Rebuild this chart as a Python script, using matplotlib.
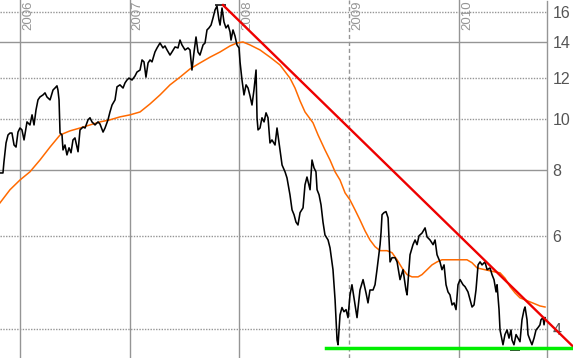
import matplotlib
matplotlib.use("Agg")
import matplotlib.pyplot as plt
from matplotlib.ticker import FixedLocator, NullLocator

# -------------------------
# Data (x in decimal years)
# -------------------------
price_t = [
    2005.818, 2005.845, 2005.854, 2005.873, 2005.891, 2005.909, 2005.927, 2005.946, 2005.964, 2005.982,
    2006.000, 2006.018, 2006.037, 2006.064, 2006.091, 2006.110, 2006.128, 2006.146, 2006.164, 2006.182,
    2006.210, 2006.228, 2006.246, 2006.274, 2006.301, 2006.319, 2006.337, 2006.346, 2006.356, 2006.365,
    2006.383, 2006.392, 2006.410, 2006.428, 2006.447, 2006.465, 2006.483, 2006.501, 2006.529, 2006.547,
    2006.574, 2006.593, 2006.620, 2006.638, 2006.656, 2006.684, 2006.711, 2006.729, 2006.757, 2006.775,
    2006.802, 2006.820, 2006.839, 2006.866, 2006.884, 2006.911, 2006.939, 2006.957, 2006.975, 2006.993,
    2007.021, 2007.048, 2007.066, 2007.094, 2007.112, 2007.130, 2007.148, 2007.167, 2007.185, 2007.203,
    2007.230, 2007.249, 2007.276, 2007.303, 2007.321, 2007.340, 2007.367, 2007.385, 2007.413, 2007.440,
    2007.458, 2007.476, 2007.504, 2007.531, 2007.549, 2007.567, 2007.586, 2007.604, 2007.622, 2007.640,
    2007.668, 2007.686, 2007.704, 2007.722, 2007.741, 2007.759, 2007.777, 2007.795, 2007.813, 2007.823,
    2007.841, 2007.859, 2007.877, 2007.896, 2007.914, 2007.923, 2007.941, 2007.959, 2007.977, 2007.996,
    2008.005, 2008.023, 2008.041, 2008.060, 2008.078, 2008.096, 2008.114, 2008.132, 2008.151, 2008.160,
    2008.169, 2008.187, 2008.205, 2008.224, 2008.242, 2008.260, 2008.278, 2008.296, 2008.324, 2008.342,
    2008.369, 2008.388, 2008.415, 2008.433, 2008.460, 2008.479, 2008.497, 2008.515, 2008.533, 2008.552,
    2008.579, 2008.597, 2008.615, 2008.643, 2008.661, 2008.679, 2008.697, 2008.707, 2008.725, 2008.743,
    2008.761, 2008.779, 2008.807, 2008.825, 2008.852, 2008.871, 2008.889, 2008.898, 2008.916, 2008.934,
    2008.952, 2008.971, 2008.989, 2009.007, 2009.025, 2009.053, 2009.071, 2009.098, 2009.126, 2009.153,
    2009.171, 2009.189, 2009.217, 2009.235, 2009.253, 2009.281, 2009.290, 2009.299, 2009.317, 2009.335,
    2009.354, 2009.363, 2009.372, 2009.390, 2009.417, 2009.436, 2009.463, 2009.490, 2009.517, 2009.527,
    2009.554, 2009.581, 2009.600, 2009.618, 2009.636, 2009.663, 2009.691, 2009.709, 2009.736, 2009.764,
    2009.782, 2009.800, 2009.827, 2009.845, 2009.864, 2009.882, 2009.900, 2009.918, 2009.937, 2009.955,
    2009.973, 2009.991, 2010.010, 2010.037, 2010.055, 2010.082, 2010.101, 2010.119, 2010.137, 2010.155,
    2010.174, 2010.192, 2010.210, 2010.237, 2010.256, 2010.283, 2010.301, 2010.319, 2010.338, 2010.347,
    2010.365, 2010.374, 2010.392, 2010.401, 2010.419, 2010.438, 2010.456, 2010.474, 2010.483, 2010.501,
    2010.520, 2010.538, 2010.556, 2010.574, 2010.593, 2010.602, 2010.620, 2010.629, 2010.647, 2010.665,
    2010.684, 2010.702, 2010.720, 2010.738, 2010.747, 2010.766, 2010.775, 2010.784,
]
price = [
    7.91, 7.91, 8.30, 9.02, 9.34, 9.42, 9.42, 8.94, 8.86, 9.46,
    9.63, 9.55, 9.14, 9.89, 9.76, 10.20, 9.76, 10.42, 10.89, 11.03,
    11.13, 11.23, 11.03, 10.89, 11.37, 11.47, 11.58, 11.37, 10.89, 9.42,
    9.34, 8.75, 8.94, 8.56, 8.83, 8.64, 9.14, 9.22, 8.68, 9.55,
    9.67, 9.63, 9.98, 10.07, 9.89, 9.76, 9.89, 9.80, 9.46, 9.63,
    9.98, 10.33, 10.65, 10.89, 11.53, 11.63, 11.47, 11.73, 11.88, 11.98,
    11.88, 12.09, 12.30, 12.41, 12.97, 12.86, 12.03, 12.80, 12.97, 12.86,
    13.43, 13.67, 13.97, 13.67, 13.79, 13.55, 13.25, 13.43, 13.73, 13.67,
    14.15, 13.85, 13.55, 13.67, 13.55, 12.41, 13.43, 14.34, 13.43, 13.25,
    13.85, 13.97, 14.79, 14.92, 15.11, 15.59, 16.14, 16.42, 15.45, 15.11,
    16.28, 15.31, 14.92, 15.11, 14.66, 14.15, 14.79, 14.41, 13.85, 13.67,
    12.86, 11.88, 11.13, 11.63, 11.47, 11.08, 10.65, 11.37, 12.41, 10.07,
    9.55, 9.63, 10.07, 9.89, 10.29, 10.07, 9.02, 9.14, 8.94, 9.63,
    8.75, 8.19, 7.95, 7.74, 7.19, 6.73, 6.59, 6.38, 6.30, 6.65,
    6.79, 7.51, 7.77, 7.35, 8.37, 8.09, 7.95, 7.35, 7.19, 6.88,
    6.38, 6.03, 5.90, 5.70, 5.18, 4.54, 3.81, 3.73, 4.25, 4.39,
    4.31, 4.35, 4.20, 4.64, 4.85, 4.44, 4.20, 4.74, 4.96, 4.68,
    4.48, 4.74, 4.74, 4.85, 5.18, 5.78, 6.10, 6.59, 6.65, 6.68,
    6.50, 5.90, 5.36, 5.46, 5.46, 5.36, 4.96, 5.18, 4.74, 4.64,
    5.53, 5.78, 5.90, 5.78, 6.01, 6.08, 6.22, 5.98, 5.90, 5.78,
    5.90, 5.53, 5.36, 5.18, 5.29, 4.85, 4.70, 4.64, 4.44, 4.48,
    4.35, 4.85, 4.96, 4.85, 4.81, 4.70, 4.54, 4.40, 4.44, 4.74,
    5.29, 5.36, 5.29, 5.36, 5.18, 5.22, 5.07, 4.96, 4.70, 4.85,
    4.35, 3.98, 3.81, 3.73, 3.90, 3.98, 3.84, 3.98, 3.81, 3.73,
    3.90, 3.84, 3.78, 4.16, 4.35, 4.40, 4.16, 3.90, 3.81, 3.73,
    3.84, 3.98, 4.02, 4.07, 4.16, 4.20, 4.07, 4.20,
]

ma_t = [
    2005.818, 2005.909, 2006.000, 2006.091, 2006.182, 2006.274, 2006.365, 2006.456, 2006.547, 2006.638,
    2006.729, 2006.820, 2006.911, 2007.003, 2007.094, 2007.185, 2007.276, 2007.367, 2007.458, 2007.549,
    2007.640, 2007.732, 2007.823, 2007.914, 2007.977, 2008.032, 2008.096, 2008.187, 2008.278, 2008.369,
    2008.460, 2008.506, 2008.552, 2008.597, 2008.670, 2008.716, 2008.779, 2008.825, 2008.871, 2008.916,
    2008.962, 2009.007, 2009.053, 2009.098, 2009.144, 2009.189, 2009.235, 2009.281, 2009.344, 2009.390,
    2009.436, 2009.481, 2009.527, 2009.572, 2009.627, 2009.663, 2009.709, 2009.754, 2009.800, 2009.845,
    2009.918, 2010.010, 2010.073, 2010.119, 2010.165, 2010.237, 2010.328, 2010.374, 2010.420, 2010.465,
    2010.511, 2010.556, 2010.602, 2010.647, 2010.693, 2010.738, 2010.784,
]
ma = [
    6.94, 7.35, 7.67, 7.95, 8.37, 8.86, 9.34, 9.51, 9.63, 9.76,
    9.89, 9.98, 10.11, 10.20, 10.33, 10.70, 11.13, 11.63, 12.03, 12.47,
    12.80, 13.13, 13.43, 13.79, 13.97, 14.03, 13.85, 13.55, 13.13, 12.69,
    11.98, 11.47, 10.84, 10.33, 9.85, 9.34, 8.75, 8.37, 7.95, 7.67,
    7.25, 7.03, 6.73, 6.44, 6.14, 5.90, 5.73, 5.63, 5.63, 5.58,
    5.41, 5.22, 5.07, 5.02, 5.02, 5.07, 5.18, 5.29, 5.36, 5.41,
    5.41, 5.41, 5.41, 5.34, 5.22, 5.18, 5.13, 5.11, 4.99, 4.81,
    4.68, 4.58, 4.54, 4.50, 4.46, 4.42, 4.40,
]

# trendlines
resist_t = [2007.850, 2011.040]
resist_p = [16.49, 3.70]
support_t = [2008.788, 2011.040]
support_p = [3.68, 3.68]

# small touch markers (high / low)
high_t = [2007.777, 2007.877]
high_p = 16.52
low_t = [2010.465, 2010.556]
low_p = 3.64

years = [2006, 2007, 2008, 2009, 2010]
year_styles = ["-", "-", "-", (0, (3, 2)), "-"]
price_ticks = [4, 6, 8, 10, 12, 14, 16]
price_styles = [(0, (1, 1)), (0, (1, 1)), "-", (0, (1, 1)), (0, (1, 1)), "-", (0, (1, 1))]

x_min, x_max = 2005.818, 2010.802
y_min, y_max = 3.52, 16.86

# -------------------------
# Plot
# -------------------------
plt.rcParams["font.family"] = ["Liberation Sans", "DejaVu Sans"]

fig = plt.figure(figsize=(5.73, 3.58), dpi=100)
ax = fig.add_axes([0, 0, 547 / 573, 1])
ax.set_yscale("log")
ax.set_xlim(x_min, x_max)
ax.set_ylim(y_min, y_max)

grid_color = "#959595"
for yr, ls in zip(years, year_styles):
    ax.axvline(yr, color=grid_color, lw=1.0, linestyle=ls, zorder=1)
for pt, ls in zip(price_ticks, price_styles):
    ax.axhline(pt, color=grid_color, lw=1.0, linestyle=ls, zorder=1)

for yr in years:
    ax.annotate(str(yr), xy=(yr, 1), xycoords=("data", "axes fraction"),
                xytext=(1.5, 0), textcoords="offset points",
                rotation=90, ha="left", va="top", fontsize=9.5, color="#959595")

ax.plot(ma_t, ma, color="#ff6a00", lw=1.1, zorder=3)
ax.plot(price_t, price, color="black", lw=1.15, zorder=4)
ax.hlines([high_p], high_t[0], high_t[1], color="black", lw=1.1, zorder=4)
ax.hlines([low_p], low_t[0], low_t[1], color="black", lw=1.1, zorder=4)

ax.plot(resist_t, resist_p, color="#ee0000", lw=1.7, zorder=5, clip_on=False)
ax.plot(support_t, support_p, color="#00ee00", lw=2.5, zorder=5, clip_on=False)

# axis cosmetics
for side in ["top", "left", "bottom"]:
    ax.spines[side].set_visible(False)
ax.spines["right"].set_color(grid_color)
ax.spines["right"].set_linestyle((0, (1, 1)))
ax.spines["right"].set_linewidth(1.0)

ax.xaxis.set_major_locator(NullLocator())
ax.xaxis.set_minor_locator(NullLocator())
ax.yaxis.tick_right()
ax.yaxis.set_major_locator(FixedLocator(price_ticks))
ax.yaxis.set_minor_locator(NullLocator())
ax.set_yticklabels([str(v) for v in price_ticks])
ax.tick_params(axis="y", length=0, pad=4, labelsize=11.5, labelcolor="#555555")

fig.savefig("out.png", dpi=100, facecolor="white")
